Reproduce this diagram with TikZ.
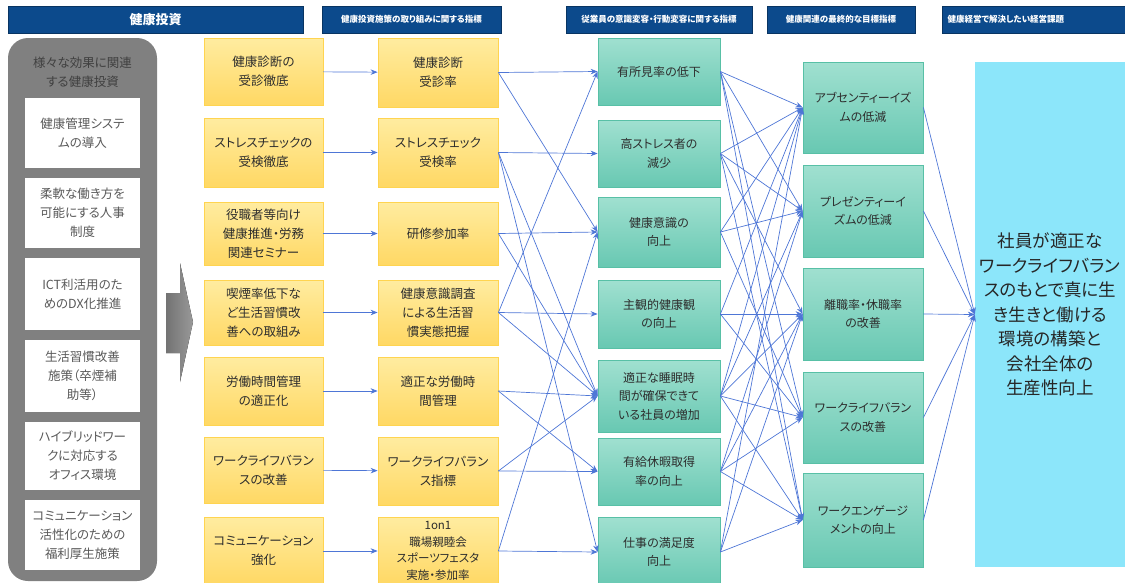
\documentclass[tikz,border=0pt]{standalone}
\usepackage{fontspec}
\setmainfont{Noto Sans CJK JP}[RawFeature=+palt]
\usetikzlibrary{arrows.meta}
\definecolor{headBlue}{RGB}{12,74,140}
\definecolor{yelTop}{RGB}{255,236,160}
\definecolor{yelBot}{RGB}{255,216,100}
\definecolor{yelLine}{RGB}{255,212,80}
\definecolor{tealTop}{RGB}{160,224,208}
\definecolor{tealBot}{RGB}{104,200,178}
\definecolor{tealLine}{RGB}{88,192,166}
\definecolor{goalCyan}{RGB}{140,230,250}
\definecolor{linkBlue}{RGB}{78,118,214}
\definecolor{panelGray}{RGB}{128,128,128}
\definecolor{textDark}{RGB}{45,45,45}
\tikzset{
    header/.style={fill=headBlue, draw=headBlue!70!black, text=white, inner sep=0pt,
        minimum height=27pt, font=\fontsize{8.5}{10}\selectfont\bfseries},
    invest/.style={top color=yelTop, bottom color=yelBot, draw=yelLine, line width=0.8pt,
        inner sep=0pt, align=center, text=textDark, font=\fontsize{12.5}{19}\selectfont},
    outcome/.style={top color=tealTop, bottom color=tealBot, draw=tealLine, line width=0.8pt,
        inner sep=0pt, align=center, text=textDark, font=\fontsize{12}{18.5}\selectfont},
    other/.style={fill=white, inner sep=0pt, minimum width=115pt, align=center,
        text=black!65, font=\fontsize{12.5}{19}\selectfont},
    link/.style={draw=linkBlue, line width=0.7pt, -{Stealth[length=7pt,width=5.5pt]}}
}
\begin{document}
\begin{tikzpicture}[x=1pt,y=-1pt]
        \useasboundingbox (0,0) rectangle (1125,582);
        % headers
        \node[header, minimum width=295pt, font=\fontsize{13}{13}\selectfont\bfseries] (h1) at (155.5,19.5) {健康投資};
        \node[header, minimum width=179pt] (h2) at (411.5,19.5) {健康投資施策の取り組みに関する指標};
        \node[header, minimum width=186pt] (h3) at (659,19.5) {従業員の意識変容・行動変容に関する指標};
        \node[header, minimum width=148pt] (h4) at (841,19.5) {健康関連の最終的な目標指標};
        \node[header, minimum width=183pt, text width=172pt, align=left] (h5) at (1033.5,19.5) {健康経営で解決したい経営課題};
        % left panel
        \node[fill=panelGray, rounded corners=20pt, minimum width=149pt, minimum height=543pt] (panel) at (82.5,309.5) {};
        \node[align=center, text=black!75, font=\fontsize{12.5}{19}\selectfont] (ptitle) at (82.5,72) {様々な効果に関連\\する健康投資};
        \node[other, minimum height=70pt] (w1) at (82.5,133) {健康管理システ\\ムの導入};
        \node[other, minimum height=70pt] (w2) at (82.5,213) {柔軟な働き方を\\可能にする人事\\制度};
        \node[other, minimum height=72pt] (w3) at (82.5,294) {ICT利活用のた\\めのDX化推進};
        \node[other, minimum height=72pt] (w4) at (82.5,376) {生活習慣改善\\施策（卒煙補\\助等）};
        \node[other, minimum height=68pt] (w5) at (82.5,456) {ハイブリッドワー\\クに対応する\\オフィス環境};
        \node[other, minimum height=70pt] (w6) at (82.5,535) {コミュニケーション\\活性化のための\\福利厚生施策};
        \fill[left color=black!55, right color=black!40] (166,293) -- (180,293) -- (180,263) -- (193,322)
            -- (180,382) -- (180,353) -- (166,353) -- cycle;
        % investment measures
        \node[invest, minimum width=119pt, minimum height=67pt] (a1) at (263.5,71.5) {健康診断の\\受診徹底};
        \node[invest, minimum width=119pt, minimum height=69pt] (a2) at (263.5,152.5) {ストレスチェックの\\受検徹底};
        \node[invest, minimum width=119pt, minimum height=63pt] (a3) at (263.5,233.5) {役職者等向け\\健康推進・労務\\関連セミナー};
        \node[invest, minimum width=119pt, minimum height=65pt] (a4) at (263.5,312.5) {喫煙率低下な\\ど生活習慣改\\善への取組み};
        \node[invest, minimum width=119pt, minimum height=68pt] (a5) at (263.5,391) {労働時間管理\\の適正化};
        \node[invest, minimum width=119pt, minimum height=66pt] (a6) at (263.5,470) {ワークライフバラン\\スの改善};
        \node[invest, minimum width=119pt, minimum height=68pt] (a7) at (263.5,551) {コミュニケーション\\強化};
        % indicators
        \node[invest, minimum width=120pt, minimum height=69pt] (b1) at (438,72.5) {健康診断\\受診率};
        \node[invest, minimum width=120pt, minimum height=69pt] (b2) at (438,152.5) {ストレスチェック\\受検率};
        \node[invest, minimum width=120pt, minimum height=63pt] (b3) at (438,233.5) {研修参加率};
        \node[invest, minimum width=120pt, minimum height=65pt] (b4) at (438,312.5) {健康意識調査\\による生活習\\慣実態把握};
        \node[invest, minimum width=120pt, minimum height=68pt] (b5) at (438,391) {適正な労働時\\間管理};
        \node[invest, minimum width=120pt, minimum height=68pt] (b6) at (438,471) {ワークライフバラン\\ス指標};
        \node[invest, minimum width=120pt, minimum height=68pt, font=\fontsize{11.5}{16.5}\selectfont] (b7) at (438,551) {1on1\\職場親睦会\\スポーツフェスタ\\実施・参加率};
        % employee changes
        \node[outcome, minimum width=122pt, minimum height=67pt] (c1) at (659,71.5) {有所見率の低下};
        \node[outcome, minimum width=122pt, minimum height=67pt] (c2) at (659,153.5) {高ストレス者の\\減少};
        \node[outcome, minimum width=122pt, minimum height=70pt] (c3) at (659,232) {健康意識の\\向上};
        \node[outcome, minimum width=122pt, minimum height=68pt] (c4) at (659,314) {主観的健康観\\の向上};
        \node[outcome, minimum width=122pt, minimum height=72pt] (c5) at (659,396) {適正な睡眠時\\間が確保できて\\いる社員の増加};
        \node[outcome, minimum width=122pt, minimum height=67pt] (c6) at (659,471.5) {有給休暇取得\\率の向上};
        \node[outcome, minimum width=122pt, minimum height=70pt] (c7) at (659,552) {仕事の満足度\\向上};
        % final targets
        \node[outcome, minimum width=120pt, minimum height=91pt] (d1) at (863,107.5) {アブセンティーイズ\\ムの低減};
        \node[outcome, minimum width=120pt, minimum height=92pt] (d2) at (863,211) {プレゼンティーイ\\ズムの低減};
        \node[outcome, minimum width=120pt, minimum height=92pt] (d3) at (863,314) {離職率・休職率\\の改善};
        \node[outcome, minimum width=120pt, minimum height=91pt] (d4) at (863,417.5) {ワークライフバラン\\スの改善};
        \node[outcome, minimum width=120pt, minimum height=94pt] (d5) at (863,520) {ワークエンゲージ\\メントの向上};
        % management issue
        \node[fill=goalCyan, inner sep=0pt, minimum width=150pt, minimum height=505pt, align=center,
            text=black!85, font=\fontsize{17.5}{24.5}\selectfont] (goal) at (1050,314.5)
            {社員が適正な\\ワークライフバラン\\スのもとで真に生\\き生きと働ける\\環境の構築と\\会社全体の\\生産性向上};
        % measures -> indicators
        \draw[link] (a1) -- (b1);
        \draw[link] (a2) -- (b2);
        \draw[link] (a3) -- (b3);
        \draw[link] (a4) -- (b4);
        \draw[link] (a5) -- (b5);
        \draw[link] (a6) -- (b6);
        \draw[link] (a7) -- (b7);
        % indicators -> employee changes
        \draw[link] (b1.east) -- (c1.west);
        \draw[link] (b1.east) -- (c3.west);
        \draw[link] (b2.east) -- (c2.west);
        \draw[link] (b2.east) -- (c5.west);
        \draw[link] (b2.east) -- (c7.west);
        \draw[link] (b3.east) -- (c3.west);
        \draw[link] (b3.east) -- (c5.west);
        \draw[link] (b4.east) -- (c4.west);
        \draw[link] (b4.east) -- (c1.west);
        \draw[link] (b4.east) -- (c5.west);
        \draw[link] (b5.east) -- (c5.west);
        \draw[link] (b5.east) -- (c6.west);
        \draw[link] (b6.east) -- (c6.west);
        \draw[link] (b6.east) -- (c5.west);
        \draw[link] (b7.east) -- (c7.west);
        \draw[link] (b7.east) -- (c3.west);
        % employee changes -> final targets
        \draw[link] (c1.east) -- (d1.west);
        \draw[link] (c1.east) -- (d2.west);
        \draw[link] (c1.east) -- (d4.west);
        \draw[link] (c1.east) -- (d5.west);
        \draw[link] (c2.east) -- (d1.west);
        \draw[link] (c2.east) -- (d2.west);
        \draw[link] (c2.east) -- (d3.west);
        \draw[link] (c2.east) -- (d5.west);
        \draw[link] (c3.east) -- (d1.west);
        \draw[link] (c3.east) -- (d2.west);
        \draw[link] (c3.east) -- (d4.west);
        \draw[link] (c4.east) -- (d3.west);
        \draw[link] (c4.east) -- (d4.west);
        \draw[link] (c4.east) -- (d1.west);
        \draw[link] (c5.east) -- (d1.west);
        \draw[link] (c5.east) -- (d2.west);
        \draw[link] (c5.east) -- (d3.west);
        \draw[link] (c5.east) -- (d4.west);
        \draw[link] (c5.east) -- (d5.west);
        \draw[link] (c6.east) -- (d2.west);
        \draw[link] (c6.east) -- (d3.west);
        \draw[link] (c6.east) -- (d4.west);
        \draw[link] (c6.east) -- (d5.west);
        \draw[link] (c7.east) -- (d5.west);
        \draw[link] (c7.east) -- (d1.west);
        \draw[link] (c7.east) -- (d3.west);
        % final targets -> issue
        \draw[link] (d1.east) -- (goal.west);
        \draw[link] (d2.east) -- (goal.west);
        \draw[link] (d3.east) -- (goal.west);
        \draw[link] (d4.east) -- (goal.west);
        \draw[link] (d5.east) -- (goal.west);
\end{tikzpicture}
\end{document}
